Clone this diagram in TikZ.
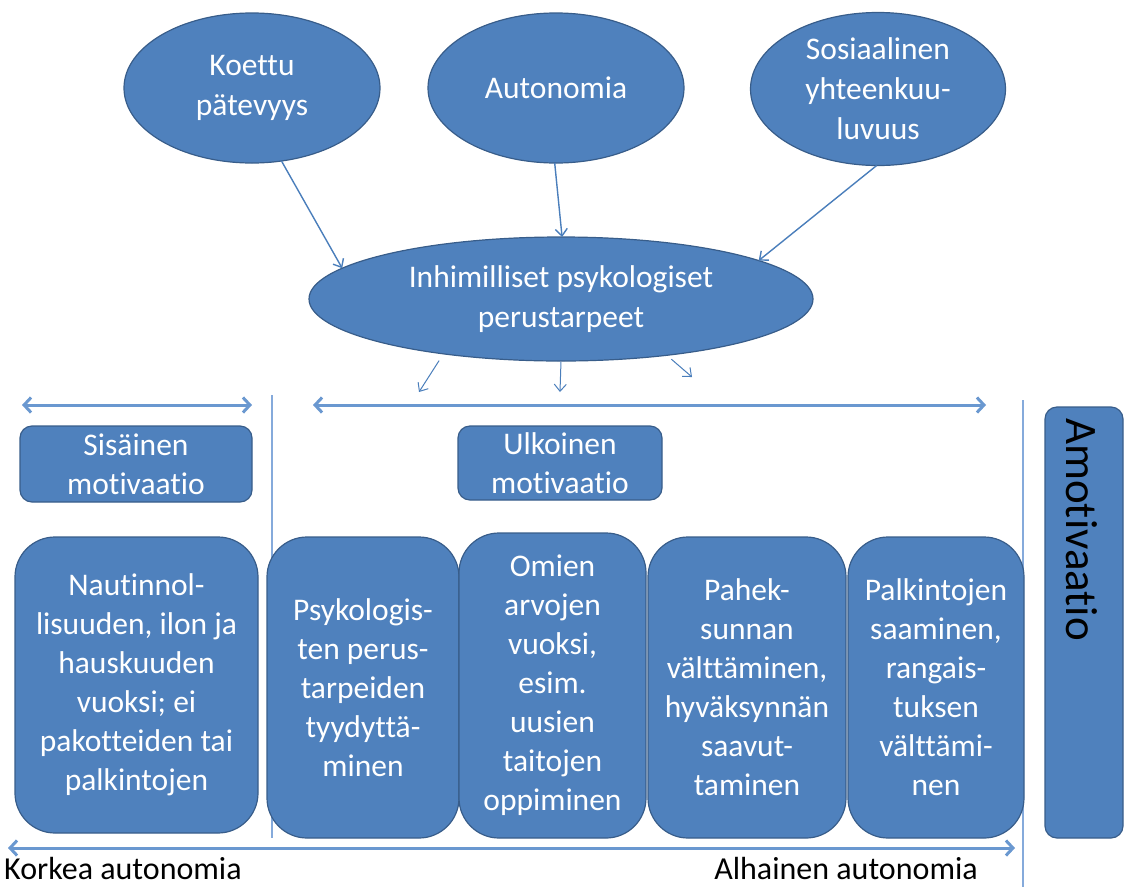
\documentclass[tikz,border=0pt]{standalone}
\usepackage{fontspec}
\setmainfont{Carlito}[Ligatures={NoCommon}]
\usetikzlibrary{shapes.geometric,arrows.meta}
\definecolor{boxblue}{HTML}{4F81BD}
\definecolor{boxedge}{HTML}{385D8A}
\definecolor{arrblue}{HTML}{4A7EBB}
\definecolor{spanblue}{HTML}{6A98D0}
\definecolor{lineblue}{HTML}{85AADB}
\tikzset{
  ell/.style={ellipse, draw=boxedge, line width=1.2pt, fill=boxblue, text=white,
    align=center, inner sep=0pt, outer sep=0pt, font=\fontsize{31.5}{40}\selectfont},
  rbox/.style={rectangle, rounded corners=12pt, draw=boxedge, line width=1.2pt,
    fill=boxblue, text=white, align=center, inner sep=0pt, outer sep=0pt,
    font=\fontsize{31.5}{39}\selectfont},
  bigbox/.style={rbox, rounded corners=40pt},
  conn/.style={draw=arrblue, line width=1.4pt, -{Straight Barb[length=7pt,width=12pt]}},
  spanarrow/.style={draw=spanblue, line width=3pt,
    {Straight Barb[length=7pt,width=15pt]}-{Straight Barb[length=7pt,width=15pt]}},
  divider/.style={draw=lineblue, line width=2pt},
  lbl/.style={text=black, inner sep=0pt, font=\fontsize{32}{39}\selectfont},
  amolbl/.style={text=black, inner sep=0pt, font=\fontsize{45}{50}\selectfont}
}
\begin{document}
\begin{tikzpicture}[x=1pt,y=-1pt]
\useasboundingbox (0,0) rectangle (1125,887);

% top ellipses
\node[ell, minimum width=256pt, minimum height=150pt] (k) at (252,88) {Koettu\\pätevyys};
\node[ell, minimum width=256pt, minimum height=150pt] (a) at (556,88) {Autonomia};
\node[ell, minimum width=255pt, minimum height=153pt] (s) at (878,89) {Sosiaalinen\\yhteenkuu-\\luvuus};
\node[ell, minimum width=504pt, minimum height=124pt] (c) at (561,299) {Inhimilliset psykologiset\\perustarpeet};

\draw[conn] (k.-68) -- (c.172);
\draw[conn] (a.-91) -- (c.89);
\draw[conn] (s.-91) -- (c.11);

% small arrows below central ellipse
\coordinate (e1) at (419,392);
\coordinate (e2) at (560,392);
\coordinate (e3) at (692,377);
\draw[conn, line width=1pt, shorten <=8pt] (c.-155) -- (e1);
\draw[conn, line width=1pt, shorten <=1pt] (c.-90) -- (e2);
\draw[conn, line width=1pt, shorten <=6pt] (c.-28) -- (e3);

% span arrows
\coordinate (l1) at (22,405);  \coordinate (l2) at (252,405);
\coordinate (m1) at (313,405); \coordinate (m2) at (986,405);
\coordinate (b1) at (8,848);   \coordinate (b2) at (1015,848);
\draw[spanarrow] (l1) -- (l2);
\draw[spanarrow] (m1) -- (m2);

% dividers
\coordinate (d1t) at (272,395); \coordinate (d1b) at (272,838);
\coordinate (d2t) at (1023,400); \coordinate (d2b) at (1023,887);
\draw[divider] (d1t) -- (d1b);
\draw[divider] (d2t) -- (d2b);

% motivation boxes
\node[rbox, minimum width=232pt, minimum height=76pt] (sis) at (136,464) {Sisäinen\\motivaatio};
\node[rbox, minimum width=204pt, minimum height=74pt] (ulk) at (560,463) {Ulkoinen\\motivaatio};
\node[rbox, minimum width=78pt, minimum height=431pt] (amo) at (1084,622.5) {};
\node[amolbl, rotate=-90, anchor=base west] (amotxt) at (1066,418) {Amotivaatio};

% bottom boxes
\node[bigbox, minimum width=243pt, minimum height=296pt] (b1box) at (136.5,685)
  {Nautinnol-\\lisuuden, ilon ja\\hauskuuden\\vuoksi; ei\\pakotteiden tai\\palkintojen};
\node[bigbox, minimum width=192pt, minimum height=301pt] (b2box) at (363,687.5)
  {Psykologis-\\ten perus-\\tarpeiden\\tyydyttä-\\minen};
\node[bigbox, minimum width=187pt, minimum height=305pt] (b3box) at (552.5,685.5)
  {Omien\\arvojen\\vuoksi,\\esim.\\uusien\\taitojen\\oppiminen};
\node[bigbox, minimum width=198pt, minimum height=301pt] (b4box) at (747,687.5)
  {Pahek-\\sunnan\\välttäminen,\\hyväksynnän\\saavut-\\taminen};
\node[bigbox, minimum width=176pt, minimum height=301pt] (b5box) at (936,687.5)
  {Palkintojen\\saaminen,\\rangais-\\tuksen\\välttämi-\\nen};

% bottom arrow and labels
\draw[spanarrow] (b1) -- (b2);
\node[lbl, anchor=base west] (korkea) at (4,879) {Korkea autonomia};
\node[lbl, anchor=base east] (alhainen) at (978,879) {Alhainen autonomia};
\end{tikzpicture}
\end{document}
